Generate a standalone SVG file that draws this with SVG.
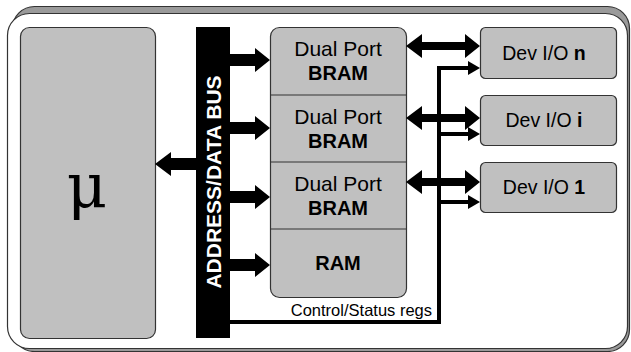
<svg xmlns="http://www.w3.org/2000/svg" width="631" height="352" viewBox="0 0 631 352">
<style>
.box{fill:#c0c0c0;stroke:#333;stroke-width:1.2}
.t{font-family:"Liberation Sans",Arial,sans-serif;font-size:20px;fill:#000;text-anchor:middle}
.b{font-weight:bold}
.arr{fill:#000}
.wire{fill:none;stroke:#000;stroke-width:4}
</style>
<g id="frame">
<rect x="12.5" y="6.5" width="617" height="345" rx="22" fill="#9a9a9a" stroke="#333" stroke-width="1.2"/>
<rect x="7.5" y="13.5" width="620" height="335" rx="22" fill="#fff" stroke="#333" stroke-width="1.2"/>
</g>
<g id="cpu">
<rect class="box" x="20.5" y="27.5" width="135" height="311" rx="9"/>
<text x="87" y="207" font-family="DejaVu Serif,serif" font-size="62" text-anchor="middle">μ</text>
</g>
<g id="bus">
<rect x="196" y="27" width="34" height="311" fill="#000"/>
<text class="t b" transform="translate(221,182) rotate(-90)" style="fill:#fff;font-size:21px">ADDRESS/DATA BUS</text>
</g>
<g id="memory">
<rect class="box" x="270.5" y="27.5" width="136" height="270" rx="9"/>
<line x1="270.5" y1="95" x2="406.5" y2="95" stroke="#333" stroke-width="1.2"/>
<line x1="270.5" y1="162" x2="406.5" y2="162" stroke="#333" stroke-width="1.2"/>
<line x1="270.5" y1="229" x2="406.5" y2="229" stroke="#333" stroke-width="1.2"/>
<text class="t" x="338" y="56" style="font-size:21px">Dual Port</text>
<text class="t b" x="338" y="80">BRAM</text>
<text class="t" x="338" y="124" style="font-size:21px">Dual Port</text>
<text class="t b" x="338" y="148">BRAM</text>
<text class="t" x="338" y="191" style="font-size:21px">Dual Port</text>
<text class="t b" x="338" y="215">BRAM</text>
<text class="t b" x="338" y="270">RAM</text>
</g>
<g id="dev-n">
<rect class="box" x="480.5" y="27.5" width="136" height="51" rx="5"/>
<text class="t" x="544" y="60" style="font-size:19.5px">Dev I/O <tspan class="b">n</tspan></text>
</g>
<g id="dev-i">
<rect class="box" x="480.5" y="95.5" width="136" height="50" rx="5"/>
<text class="t" x="544" y="127" style="font-size:19.5px">Dev I/O <tspan class="b">i</tspan></text>
</g>
<g id="dev-1">
<rect class="box" x="480.5" y="162.5" width="136" height="50" rx="5"/>
<text class="t" x="544" y="194" style="font-size:19.5px">Dev I/O <tspan class="b">1</tspan></text>
</g>
<g id="connectors">
<polygon class="arr" points="196,158 171,158 171,152 155,164 171,176 171,170 196,170"/>
<polygon class="arr" points="230,54 255,54 255,48 270,60 255,72 255,66 230,66"/>
<polygon class="arr" points="230,122 255,122 255,116 270,128 255,140 255,134 230,134"/>
<polygon class="arr" points="230,191 255,191 255,185 270,197 255,209 255,203 230,203"/>
<polygon class="arr" points="230,259 255,259 255,253 270,265 255,277 255,271 230,271"/>
<polygon class="arr" points="406,46 422,34 422,42 465,42 465,34 480,46 465,58 465,50 422,50 422,58"/>
<polygon class="arr" points="406,118 422,106 422,114 465,114 465,106 480,118 465,130 465,122 422,122 422,130"/>
<polygon class="arr" points="406,182 422,170 422,178 465,178 465,170 480,182 465,194 465,186 422,186 422,194"/>
<path class="wire" d="M230,322 H439 V68 H469 M439,134 H469 M439,202 H469"/>
<polygon class="arr" points="468,61 480,68 468,75"/>
<polygon class="arr" points="468,127 480,134 468,141"/>
<polygon class="arr" points="468,195 480,202 468,209"/>
<text x="432" y="316" font-family="Liberation Sans,Arial,sans-serif" font-size="16.5" text-anchor="end">Control/Status regs</text>
</g>
</svg>
